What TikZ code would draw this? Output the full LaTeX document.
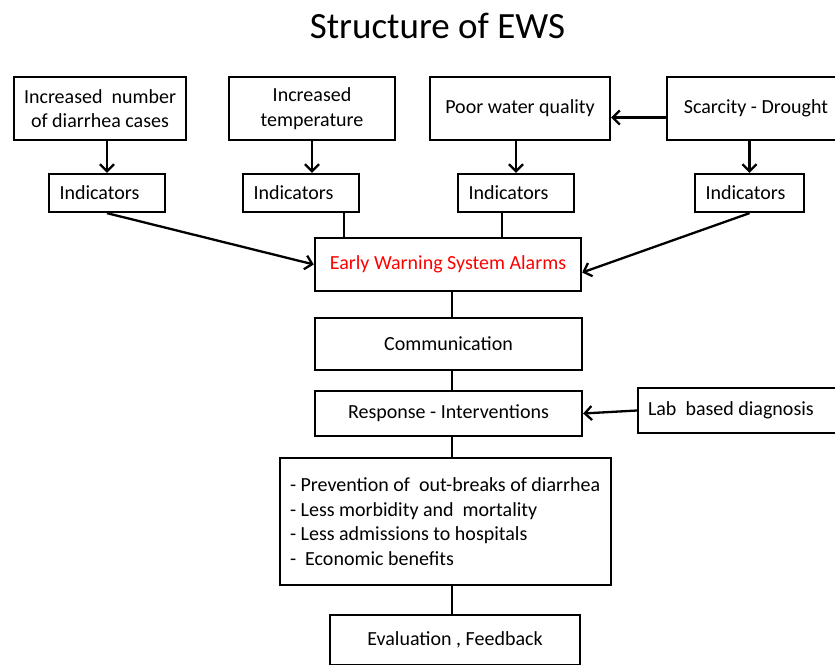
\documentclass[tikz,border=0pt]{standalone}
\usepackage{fontspec}
\setmainfont{Carlito}
\usepackage{xcolor}
\usetikzlibrary{arrows.meta}

\tikzset{
    box/.style={rectangle, draw, align=center, inner sep=0pt},
    indbox/.style={rectangle, draw, minimum height=38, inner xsep=10.5pt, text width=#1, align=flush left},
}

\begin{document}
\begin{tikzpicture}[x=1pt, y=-1pt, line width=2.3pt, font=\fontsize{20}{24.5}\selectfont, >={Straight Barb[length=7pt,width=14pt]}]
    \useasboundingbox (0,0) rectangle (835,664);
    \node[anchor=base, font=\fontsize{37}{40}\selectfont] (title) at (437.5,38) {Structure of EWS};

    % causes
    \node[box, minimum width=172, minimum height=63] (diarrhea) at (100,108.5) {Increased\ \ number\\of diarrhea cases};
    \node[box, minimum width=166, minimum height=63] (temp) at (312,108.5) {Increased\\temperature};
    \node[box, minimum width=180, minimum height=63] (water) at (520,108.5) {Poor water quality};
    \node[box, minimum width=178, minimum height=63] (drought) at (756,108.5) {Scarcity - Drought};

    % indicators
    \node[indbox=95pt] (ind1) at (107,193) {Indicators};
    \node[indbox=95pt] (ind2) at (301,193) {Indicators};
    \node[indbox=95pt] (ind3) at (516,193) {Indicators};
    \node[indbox=88pt] (ind4) at (749.5,193) {Indicators};

    \node[box, minimum width=266, minimum height=53, text=red] (ews) at (448,264.5) {Early Warning System Alarms};
    \node[box, minimum width=267, minimum height=52] (comm) at (448.5,344) {Communication};
    \node[box, minimum width=267, minimum height=45] (resp) at (448.5,413.5) {Response - Interventions};
    \node[indbox=192pt, minimum height=45, inner xsep=10pt] (lab) at (744,410.5) {Lab\ \ based diagnosis};
    \node[indbox=311pt, minimum height=127, inner xsep=10pt] (outcomes) at (445.5,521.5) {- Prevention of\ \ out-breaks of diarrhea\\- Less morbidity and\ \ mortality\\- Less admissions to hospitals\\-\ \ Economic benefits};
    \node[box, minimum width=250, minimum height=50] (eval) at (455,640) {Evaluation , Feedback};

    \draw[->] (ind1 |- diarrhea.south) -- (ind1.north);
    \draw[->] (temp.south) -- (temp.south |- ind2.north);
    \draw[->] (ind3 |- water.south) -- (ind3.north);
    \draw[->] (ind4 |- drought.south) -- (ind4.north);
    \draw[->] ([yshift=-9pt]drought.west) -- ([yshift=-9pt]water.east);

    \draw[->] (ind1.south) -- (ews.west);
    \draw ([xshift=43pt]ind2.south) -- ([xshift=-104pt]ews.north);
    \draw ([xshift=-14pt]ind3.south) -- ([xshift=54pt]ews.north);
    \draw[->] (ind4.south) -- ([yshift=-8pt]ews.east);

    \draw ([xshift=4pt]ews.south) -- ([xshift=3.5pt]comm.north);
    \draw ([xshift=3.5pt]comm.south) -- ([xshift=3.5pt]resp.north);
    \draw[->] (lab.west) -- (resp.east);
    \draw ([xshift=3.5pt]resp.south) -- ([xshift=6.5pt]outcomes.north);
    \draw ([xshift=6.5pt]outcomes.south) -- ([xshift=-3pt]eval.north);
\end{tikzpicture}
\end{document}
